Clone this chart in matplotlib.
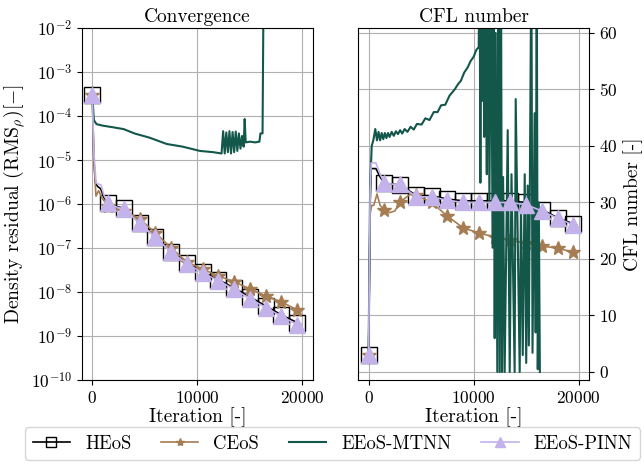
import numpy as np
import matplotlib
matplotlib.use("Agg")
import matplotlib.pyplot as plt

plt.rcParams['font.family'] = 'serif'
plt.rcParams['font.serif'] = ['cmr10', 'DejaVu Serif']
plt.rcParams['mathtext.fontset'] = 'cm'
plt.rcParams['axes.formatter.use_mathtext'] = True
plt.rcParams['font.size'] = 12.5

#%% Data: density residual
heos_it = [0, 150, 300, 500, 800, 1100, 1500, 2000, 2500, 3000, 4500, 6000, 7500,
           9000, 10500, 12000, 13500, 15000, 16500, 18000, 19500, 19800]
heos_res = [3e-4, 1e-5, 3e-6, 2.5e-6, 2.2e-6, 1.4e-6, 1.05e-6, 9e-7, 8.5e-7, 8e-7,
            3.7e-7, 1.8e-7, 8.1e-8, 4.6e-8, 2.85e-8, 1.9e-8, 1.23e-8, 7.7e-9,
            4.8e-9, 3.0e-9, 2.0e-9, 1.85e-9]

ceos_it = [0, 150, 350, 600, 900, 1200, 1500, 2000, 2500, 3000, 4500, 6000, 7500,
           9000, 10500, 12000, 13500, 15000, 16500, 18000, 19500, 19800]
ceos_res = [3e-4, 1e-5, 1.5e-6, 2e-6, 1.4e-6, 1.1e-6, 9e-7, 8e-7, 7.5e-7, 7e-7,
            4.6e-7, 2.2e-7, 1e-7, 4.8e-8, 3.3e-8, 2.3e-8, 1.7e-8, 1.17e-8,
            8.1e-9, 5.9e-9, 3.9e-9, 3.6e-9]

pinn_it = [0, 150, 360, 600, 830, 1100, 1500, 2000, 2500, 3000, 4500, 6000, 7500,
           9000, 10500, 12000, 13500, 15000, 16500, 18000, 19500, 19800]
pinn_res = [3e-4, 1.5e-5, 3e-6, 2.8e-6, 2.7e-6, 1.6e-6, 1.05e-6, 9e-7, 8.2e-7, 7.8e-7,
            3.6e-7, 1.75e-7, 8e-8, 4.4e-8, 2.7e-8, 1.8e-8, 1.15e-8, 7e-9,
            4.4e-9, 2.8e-9, 1.8e-9, 1.7e-9]

mtnn_it = [0, 150, 400, 1000, 2000, 3000, 4000, 5450, 7080, 8600, 10240, 11500, 12300,
           12450, 12600, 12750, 12900, 13050, 13200, 13350, 13500, 13650, 13800,
           13950, 14100, 14250, 14400, 14500, 14600, 15000, 15500, 15900, 16000,
           16200, 16300]
mtnn_res = [3e-4, 8e-5, 6.5e-5, 6e-5, 5.5e-5, 5e-5, 4e-5, 3.2e-5, 2.3e-5, 2e-5,
            1.6e-5, 1.5e-5, 1.4e-5,
            4.5e-5, 1.4e-5, 4.2e-5, 1.5e-5, 4.5e-5, 1.4e-5, 4.3e-5, 1.5e-5, 4.4e-5,
            1.6e-5, 4e-5, 1.8e-5, 3.5e-5, 2e-5, 8.5e-5, 2.5e-5, 2.6e-5, 2.5e-5,
            2.6e-5, 4e-5, 4e-5, 1e-1]

#%% Data: CFL number
heos_cfl_it = [0, 150, 250, 700, 1100, 1500, 2000, 2500, 3000, 4500, 6000, 7500, 9000,
               10500, 12000, 13500, 15000, 16500, 18000, 19500, 19800]
heos_cfl = [3, 30, 36, 36, 34.5, 33.4, 33.3, 33.2, 33.1, 31.3, 31.2, 30.6, 30.3,
            30.3, 30.3, 30.3, 30.0, 28.7, 27.3, 26.2, 26.0]

pinn_cfl_it = [0, 150, 250, 700, 1100, 1500, 2000, 2500, 3000, 4500, 6000, 7500, 9000,
               10500, 12000, 13500, 15000, 16500, 18000, 19500, 19800]
pinn_cfl = [3, 32, 37, 37, 35, 33.5, 33.3, 33.2, 33.2, 31, 31, 30.4, 30,
            30, 30, 30, 29.6, 28.5, 27.2, 26, 25.8]

ceos_cfl_it = [0, 150, 300, 500, 800, 1100, 1500, 2000, 2500, 3000, 4000, 4500, 6000,
               7500, 9000, 10500, 12000, 13500, 15000, 16500, 18000, 19500, 19800]
ceos_cfl = [3, 28, 29.5, 29.5, 31.5, 29.5, 28.7, 28.2, 28.5, 30.1, 31.5, 31.3, 30,
            27.6, 25.5, 24.6, 23.9, 23.3, 22.8, 22.3, 21.9, 21.2, 21.1]

mtnn_cfl_it = [0, 150, 300, 450, 640, 800, 950, 1100, 1250, 1400, 1550, 1700, 1850,
               2000, 2200, 2400, 2600, 2800, 3000, 3200, 3430, 3700, 4000, 4300,
               4600, 5050, 5400, 5800, 6200, 6570, 6900, 7300, 7700, 8190, 8500,
               8800, 9100, 9430, 9700, 10000, 10250,
               10480, 10560, 10640, 10720, 10820, 10900, 11000, 11100, 11250, 11350,
               11500, 11650, 11800, 11900, 12000, 12100, 12250, 12350, 12480, 12600,
               12700, 12800, 12950, 13240, 13430, 13600, 13900, 14000, 14380, 14500,
               14670, 14860, 15000, 15140, 15250, 15490, 15600, 15800, 15900, 16000,
               16100, 16200, 16300]
mtnn_cfl = [3, 33, 40, 41, 43, 41, 42.5, 41, 42.3, 41.2, 42.3, 41.4, 42.3,
            41.6, 42.5, 41.8, 42.6, 42.1, 42.8, 42.2, 43.0, 42.5, 43.4, 42.9,
            43.9, 43.8, 44.9, 44.6, 46.0, 46.0, 47.2, 47.3, 48.9, 50.0, 50.9,
            51.6, 53.0, 53.9, 55.0, 55.8, 57.0,
            57.5, 75, 33.5, 75, 48, 75, 41.6, 75, 35, 75,
            30, 75, 22, 75, 6, 60, 0, 70, 0, 75,
            0, 34.5, 0, 42.8, 0, 35, 0, 48.3, 0, 30,
            3, 35, 1.6, 33, 4.7, 75, 3.4, 45.8, 7, 75,
            0.5, 30, 0]

c_heos = 'black'
c_ceos = '#a67c52'
c_mtnn = '#13574b'
c_pinn = '#c3b3ea'


def every(its, step=1500):
    return [i for i, v in enumerate(its) if v % step == 0]


fig = plt.figure(figsize=(6.44, 4.65), dpi=100)
ax1 = fig.add_axes([0.127, 0.183, 0.359, 0.757])
ax2 = fig.add_axes([0.556, 0.183, 0.359, 0.757])

#%% Convergence
ax1.plot(heos_it, heos_res, color=c_heos, lw=1.2, marker='s', ms=11, mfc='none',
         mec=c_heos, mew=1.0, markevery=every(heos_it), label='HEoS')
ax1.plot(ceos_it, ceos_res, color=c_ceos, lw=1.2, marker='*', ms=10,
         markevery=every(ceos_it), label='CEoS')
ax1.plot(mtnn_it, mtnn_res, color=c_mtnn, lw=1.5, label='EEoS-MTNN')
ax1.plot(pinn_it, pinn_res, color=c_pinn, lw=1.2, marker='^', ms=11,
         markevery=every(pinn_it), label='EEoS-PINN')
ax1.set_yscale('log')
ax1.set_ylim(1e-10, 1e-2)
ax1.set_xlim(-1000, 21000)
ax1.yaxis.set_minor_locator(matplotlib.ticker.NullLocator())
ax1.set_xticks([0, 10000, 20000])
ax1.grid(True, color='#b0b0b0', lw=0.8)
ax1.set_title('Convergence', pad=4, fontsize=14)
ax1.set_xlabel('Iteration [-]', labelpad=1, fontsize=14)
ax1.set_ylabel(r'Density residual (RMS$_\rho$)$[-]$', fontsize=14.2, labelpad=3)

#%% CFL
ax2.plot(heos_cfl_it, heos_cfl, color=c_heos, lw=1.2, marker='s', ms=11, mfc='none',
         mec=c_heos, mew=1.0, markevery=every(heos_cfl_it))
ax2.plot(ceos_cfl_it, ceos_cfl, color=c_ceos, lw=1.2, marker='*', ms=10,
         markevery=every(ceos_cfl_it))
ax2.plot(mtnn_cfl_it, mtnn_cfl, color=c_mtnn, lw=1.5)
ax2.plot(pinn_cfl_it, pinn_cfl, color=c_pinn, lw=1.2, marker='^', ms=11,
         markevery=every(pinn_cfl_it))
ax2.set_ylim(-1.4, 60.9)
ax2.set_xlim(-1000, 21000)
ax2.set_xticks([0, 10000, 20000])
ax2.set_yticks([0, 10, 20, 30, 40, 50, 60])
ax2.yaxis.tick_right()
ax2.yaxis.set_label_position('right')
ax2.grid(True, color='#b0b0b0', lw=0.8)
ax2.set_title('CFL number', pad=4, fontsize=14)
ax2.set_xlabel('Iteration [-]', labelpad=1, fontsize=14)
ax2.set_ylabel('CFL number [-]', fontsize=14)

fig.legend(loc='lower left', bbox_to_anchor=(25 / 644, 5 / 465, 615 / 644, 32 / 465),
           mode='expand', ncol=4, fancybox=True, borderaxespad=0.0,
           handlelength=2.0, markerscale=0.6, fontsize=13.5)

fig.savefig('out.png', dpi=100)
